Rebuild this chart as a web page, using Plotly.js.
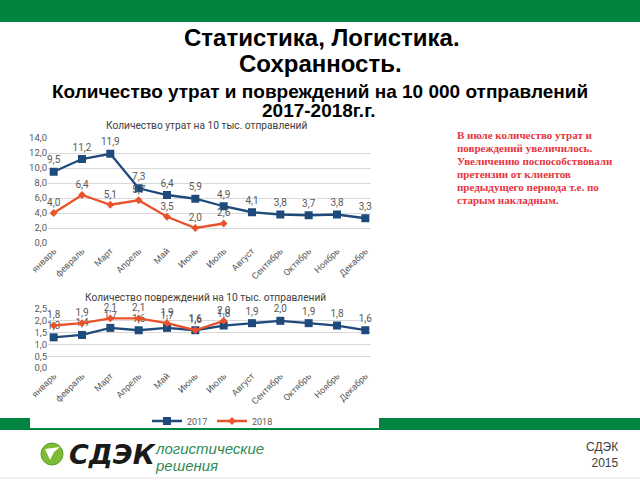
<!DOCTYPE html>
<html>
<head>
<meta charset="utf-8">
<script src="https://cdn.plot.ly/plotly-3.0.1.min.js"></script>
<style>html,body{margin:0;padding:0;background:#fff;}#chart{width:640px;height:480px;}</style>
</head>
<body>
<div id="chart"></div>
<script>
const months = ["январь","февраль","Март","Апрель","Май","Июнь","Июль","Август","Сентябрь","Октябрь","Ноябрь","Декабрь"];
const months2018 = months.slice(0, 7);
const losses2017 = [9.5, 11.2, 11.9, 7.3, 6.4, 5.9, 4.9, 4.1, 3.8, 3.7, 3.8, 3.3];
const losses2018 = [4.0, 6.4, 5.1, 5.7, 3.5, 2.0, 2.6];
const damages2017 = [1.3, 1.4, 1.7, 1.6, 1.7, 1.6, 1.8, 1.9, 2.0, 1.9, 1.8, 1.6];
const damages2018 = [1.8, 1.9, 2.1, 2.1, 1.9, 1.6, 2.0];
const seriesNames = ["2017", "2018"];

const W = 640, H = 480;
const px = x => x / W;
const py = y => 1 - y / H;
const fmt = v => v.toFixed(1).replace('.', ',');

const BLUE = '#1F4A7C';
const ORANGE = '#E8532B';
const GREEN = '#00843F';

function line(x, y, name, color, marker, xa, ya, show) {
  return {
    type: 'scatter', mode: 'lines+markers+text',
    x: x, y: y, name: name, xaxis: xa, yaxis: ya, showlegend: show,
    line: {color: color, width: 2.3},
    marker: {symbol: marker, size: marker === 'square' ? 8 : 6, color: color},
    text: y.map(fmt), textposition: 'top center',
    textfont: {family: 'Roboto, Liberation Sans, sans-serif', size: 10, color: '#595959'},
    cliponaxis: false, hoverinfo: 'skip'
  };
}

const data = [
  line(months, losses2017, seriesNames[0], BLUE, 'square', 'x', 'y', false),
  line(months2018, losses2018, seriesNames[1], ORANGE, 'diamond', 'x', 'y', false),
  line(months, damages2017, seriesNames[0], BLUE, 'square', 'x2', 'y2', true),
  line(months2018, damages2018, seriesNames[1], ORANGE, 'diamond', 'x2', 'y2', true)
];

const tickFont = {family: 'Roboto, Liberation Sans, sans-serif', size: 9.5, color: '#595959'};
const xBase = {type: 'category', range: [-0.2, 11.2], tickangle: -45, showgrid: false, zeroline: false,
  showline: false, ticks: '', tickfont: {family: 'Roboto, Liberation Sans, sans-serif', size: 9, color: '#595959'}, fixedrange: true,
  domain: [px(48), px(371)]};
const yBase = {showgrid: true, gridcolor: '#D9D9D9', gridwidth: 1, zeroline: false, showline: false, ticks: '',
  tickformat: '.1f', tickfont: tickFont, fixedrange: true};

const shapes = [
  {type: 'rect', xref: 'paper', yref: 'paper', x0: 0, x1: 1, y0: py(22), y1: 1, fillcolor: GREEN, line: {width: 0}, layer: 'below'},
  {type: 'rect', xref: 'paper', yref: 'paper', x0: 0, x1: 1, y0: py(430), y1: py(418), fillcolor: GREEN, line: {width: 0}, layer: 'below'},
  {type: 'rect', xref: 'paper', yref: 'paper', x0: px(30), x1: px(379), y0: py(428), y1: py(112), fillcolor: '#FFFFFF', line: {width: 0}, layer: 'below'},
  {type: 'line', xref: 'paper', yref: 'paper', x0: 0, x1: 1, y0: py(478), y1: py(478), line: {color: '#E3E3E3', width: 1}, layer: 'below'},
  {type: 'circle', xref: 'paper', yref: 'paper', x0: px(41), x1: px(63), y0: py(465), y1: py(443), fillcolor: '#7DBB34', line: {color: '#5FA02A', width: 1}},
  {type: 'path', xref: 'paper', yref: 'paper',
   path: `M ${px(45)},${py(449)} L ${px(60)},${py(447)} L ${px(54)},${py(452)} L ${px(50)},${py(460)} Z`,
   fillcolor: '#FFFFFF', line: {width: 0}}
];

const redLines = [
  "В июле количество утрат и",
  "повреждений увеличилось.",
  "Увеличению поспособствовали",
  "претензии от клиентов",
  "предыдущего периода т.е. по",
  "старым накладным."
];

const annotations = [
  {text: '<b>Статистика, Логистика.</b>', x: px(322), y: py(37), font: {family: 'Liberation Sans, Arial, sans-serif', size: 24, color: '#000'}},
  {text: '<b>Сохранность.</b>', x: px(320), y: py(64), font: {family: 'Liberation Sans, Arial, sans-serif', size: 24, color: '#000'}},
  {text: '<b>Количество утрат и повреждений на 10 000 отправлений</b>', x: px(320), y: py(91), font: {family: 'Liberation Sans, Arial, sans-serif', size: 19, color: '#000'}},
  {text: '<b>2017-2018г.г.</b>', x: px(318), y: py(111), font: {family: 'Liberation Sans, Arial, sans-serif', size: 19, color: '#000'}},
  {text: 'Количество утрат на 10 тыс. отправлений', x: px(206), y: py(126), font: {family: 'Roboto, Liberation Sans, sans-serif', size: 10.2, color: '#404040'}},
  {text: 'Количество повреждений на 10 тыс. отправлений', x: px(205), y: py(297), font: {family: 'Roboto, Liberation Sans, sans-serif', size: 10.2, color: '#404040'}},
  {text: '<b><i>СДЭК</i></b>', x: px(67), y: py(454), xanchor: 'left', font: {family: 'DejaVu Sans, sans-serif', size: 27, color: '#1A1A1A'}},
  {text: '<i>логистические</i>', x: px(153), y: py(448), xanchor: 'left', font: {family: 'Liberation Sans, sans-serif', size: 15, color: '#2E8B57'}},
  {text: '<i>решения</i>', x: px(153), y: py(465), xanchor: 'left', font: {family: 'Liberation Sans, sans-serif', size: 15, color: '#2E8B57'}},
  {text: 'СДЭК<br>2015', x: px(620), y: py(455), xanchor: 'right', align: 'right', font: {family: 'Liberation Sans, sans-serif', size: 12, color: '#404040'}}
].map(a => Object.assign({xref: 'paper', yref: 'paper', showarrow: false, yanchor: a.yanchor || 'middle', xanchor: a.xanchor || 'center'}, a));

redLines.forEach((t, i) => {
  annotations.push({text: '<b>' + t + '</b>', xref: 'paper', yref: 'paper', x: px(455), y: py(135 + i * 13),
    xanchor: 'left', yanchor: 'middle', showarrow: false,
    font: {family: 'Liberation Serif, Times New Roman, serif', size: 11, color: '#E5353F'}});
});

const layout = {
  width: W, height: H,
  margin: {l: 0, r: 0, t: 0, b: 0},
  paper_bgcolor: '#FFFFFF', plot_bgcolor: 'rgba(0,0,0,0)',
  separators: ', ',
  showlegend: true,
  legend: {orientation: 'h', x: px(212), xanchor: 'center', y: py(421), yanchor: 'middle',
    font: {family: 'Roboto, Liberation Sans, sans-serif', size: 9, color: '#595959'}, bgcolor: 'rgba(0,0,0,0)',
    entrywidth: 20, entrywidthmode: 'pixels', itemwidth: 30, tracegroupgap: 0},
  xaxis: Object.assign({}, xBase, {anchor: 'y'}),
  yaxis: Object.assign({}, yBase, {range: [0, 14], dtick: 2, domain: [py(243), py(138)], anchor: 'x'}),
  xaxis2: Object.assign({}, xBase, {anchor: 'y2'}),
  yaxis2: Object.assign({}, yBase, {range: [0, 2.5], dtick: 0.5, domain: [py(368), py(309)], anchor: 'x2'}),
  shapes: shapes,
  annotations: annotations
};

Plotly.newPlot('chart', data, layout, {staticPlot: true, displayModeBar: false});
</script>
</body>
</html>
